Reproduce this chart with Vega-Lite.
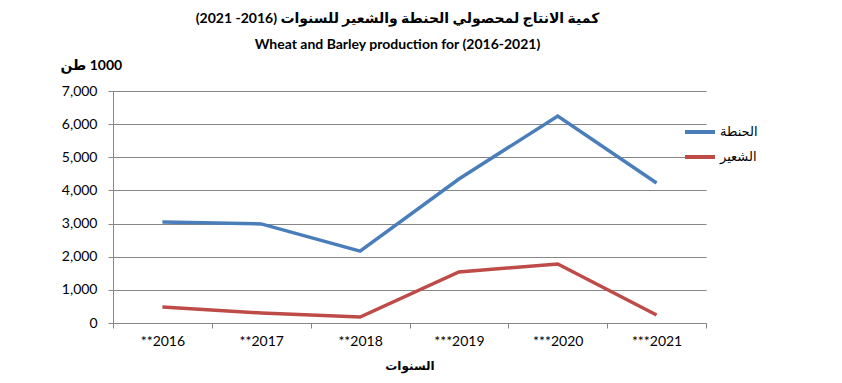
{
  "$schema": "https://vega.github.io/schema/vega-lite/v6.json",
  "width": 593,
  "height": 232,
  "autosize": {"type": "none"},
  "padding": {"left": 113, "top": 91, "right": 136, "bottom": 60},
  "background": "white",
  "title": {
    "text": ["(2021 -2016) كمية الانتاج لمحصولي الحنطة والشعير للسنوات", "Wheat and Barley production for  (2016-2021)"],
    "frame": "group",
    "anchor": "middle",
    "dx": -12,
    "offset": 6,
    "fontSize": 14,
    "fontWeight": "bold",
    "font": "Lato, DejaVu Sans",
    "color": "black",
    "lineHeight": 26
  },
  "data": {
    "values": [
      {"year": "**2016", "crop": "الحنطة", "value": 3050},
      {"year": "**2017", "crop": "الحنطة", "value": 2990},
      {"year": "**2018", "crop": "الحنطة", "value": 2170},
      {"year": "***2019", "crop": "الحنطة", "value": 4345},
      {"year": "***2020", "crop": "الحنطة", "value": 6245},
      {"year": "***2021", "crop": "الحنطة", "value": 4225},
      {"year": "**2016", "crop": "الشعير", "value": 480},
      {"year": "**2017", "crop": "الشعير", "value": 300},
      {"year": "**2018", "crop": "الشعير", "value": 180},
      {"year": "***2019", "crop": "الشعير", "value": 1540},
      {"year": "***2020", "crop": "الشعير", "value": 1780},
      {"year": "***2021", "crop": "الشعير", "value": 240}
    ]
  },
  "mark": {"type": "line", "strokeWidth": 3.5},
  "encoding": {
    "x": {
      "field": "year",
      "type": "ordinal",
      "sort": null,
      "scale": {"type": "band", "paddingInner": 0, "paddingOuter": 0},
      "axis": {
        "title": "السنوات",
        "titleFont": "DejaVu Sans",
        "titleFontSize": 12,
        "titleFontWeight": "bold",
        "titleColor": "black",
        "titlePadding": 12,
        "labelAngle": 0,
        "labelFont": "Lato",
        "labelFontSize": 14,
        "labelColor": "black",
        "labelPadding": 6,
        "tickBand": "extent",
        "tickSize": 5,
        "tickColor": "#868686",
        "domainColor": "#868686",
        "grid": false
      }
    },
    "y": {
      "field": "value",
      "type": "quantitative",
      "scale": {"domain": [0, 7000], "nice": false},
      "axis": {
        "title": "طن\u200E 1000",
        "titleAngle": 0,
        "titleAlign": "left",
        "titleBaseline": "middle",
        "titleX": -53,
        "titleY": -26,
        "titleFont": "Lato, DejaVu Sans",
        "titleFontSize": 14,
        "titleFontWeight": "bold",
        "titleColor": "black",
        "values": [0, 1000, 2000, 3000, 4000, 5000, 6000, 7000],
        "format": ",d",
        "labelFont": "Lato",
        "labelFontSize": 14,
        "labelColor": "black",
        "labelPadding": 11,
        "tickSize": 5,
        "tickColor": "#868686",
        "domainColor": "#868686",
        "gridColor": "#868686",
        "gridWidth": 1
      }
    },
    "color": {
      "field": "crop",
      "type": "nominal",
      "scale": {"domain": ["الحنطة", "الشعير"], "range": ["#4A7EBB", "#BE4B48"]},
      "legend": {
        "title": null,
        "orient": "none",
        "legendX": 570,
        "legendY": 24,
        "symbolType": "stroke",
        "symbolSize": 900,
        "symbolStrokeWidth": 4,
        "rowPadding": -2,
        "labelOffset": 3,
        "labelFont": "DejaVu Sans",
        "labelFontSize": 13,
        "labelColor": "black"
      }
    }
  },
  "config": {
    "view": {"stroke": null}
  }
}
